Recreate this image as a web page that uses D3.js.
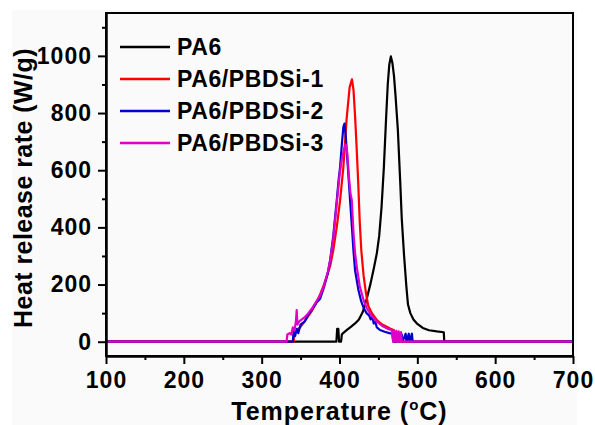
<!DOCTYPE html>
<html><head><meta charset="utf-8">
<script src="https://cdn.jsdelivr.net/npm/d3@7"></script>
<style>
html,body{margin:0;padding:0;background:#fff;}
svg text{font-family:"Liberation Sans",Arial,sans-serif;font-weight:bold;fill:#000;}
</style></head>
<body>
<svg id="c" width="595" height="425"></svg>
<script>
// ---- data (temperature °C, heat release rate W/g) ----
const seriesNames = ["PA6", "PA6/PBDSi-1", "PA6/PBDSi-2", "PA6/PBDSi-3"];
const seriesColors = ["#000000", "#ff0000", "#0000cc", "#e000c8"];

const pa6 = [[100,0],[396,0],[397,45],[398.5,45],[399.5,0],[402,0],[403,25],[405,31],[410,42],[415,53],[420,64],[425,78],[430,105],[435,150],[440,205],[444,255],[448,310],[451,370],[454,470],[457,610],[460,790],[462,900],[464,970],[466,998],[468,975],[470,930],[472,860],[475,740],[478,560],[480,430],[483,300],[486,190],[488,130],[491,100],[495,78],[500,62],[507,48],[515,40],[525,36],[534,33],[534.6,0],[700,0]];

const pbdsi1 = [[100,0],[341,0],[342,25],[345,40],[350,52],[355,70],[360,90],[365,110],[370,135],[375,165],[380,200],[385,240],[388,265],[392,320],[396.5,402],[400.8,495],[405,612],[409,775],[413,890],[416,918],[418,880],[420,790],[422,680],[424,560],[426,420],[428,320],[431,230],[434,170],[437,125],[442,98],[448,76],[455,60],[465,46],[470,40],[471,0],[700,0]];

const pbdsi2 = [[100,0],[340,0],[341,35],[343,20],[345,45],[347,30],[350,60],[355,70],[360,95],[365,115],[370,135],[375,150],[380,190],[385,240],[388,285],[392,370],[396.5,495],[399,570],[400.8,612],[403,690],[405,752],[406.4,763],[408,720],[410,640],[412,560],[413.6,495],[416,400],[417.9,320],[420,250],[424.3,181],[428,140],[431,118],[435,99],[438,92],[440,78],[442,88],[444,64],[446,70],[448,50],[452,41],[458,35],[464,30],[468,28],[469,0],[471,0],[472,25],[473,0],[476,28],[477,0],[480,25],[481,0],[485,28],[486,0],[489,28],[490,0],[493,28],[494,0],[700,0]];

const pbdsi3 = [[100,0],[332,0],[333,25],[336,30],[338,25],[340,50],[342,40],[344,70],[345,111],[346,60],[348,70],[350,75],[355,85],[360,100],[365,118],[370,140],[375,160],[380,195],[385,245],[388,285],[392,360],[396,470],[400,580],[403,640],[406,675],[408,690],[410,660],[412,580],[414,520],[415.8,495],[418,380],[420,310],[422.2,262],[426,195],[430.8,146],[435,118],[440,95],[448,70],[455,55],[462,45],[467,41],[469,0],[470,40],[471,0],[473,38],[474,0],[476,36],[477,0],[479,34],[480,0],[700,0]];

const seriesData = [pa6, pbdsi1, pbdsi2, pbdsi3];

const xTicks = [100,200,300,400,500,600,700];
const xMinorTicks = [150,250,350,450,550,650];
const yTicks = [0,200,400,600,800,1000];
const yMinorTicks = [100,300,500,700,900,1100];
const xTitle = "Temperature (";
const yTitle = "Heat release rate (W/g)";

// ---- layout ----
const svg = d3.select("#c");
svg.append("rect").attr("x",12).attr("y",10).attr("width",565).attr("height",415).attr("fill","#fafafa");

const L = 106, R = 573, T = 13, B = 356;
const x = d3.scaleLinear().domain([100,700]).range([L,R]);
const y = d3.scaleLinear().domain([-50,1150]).range([B,T]);

// data lines
const line = d3.line().x(d=>x(d[0])).y(d=>y(d[1]));
const g = svg.append("g");
seriesData.forEach((s,i)=>{
  g.append("path").datum(s).attr("d",line).attr("fill","none")
   .attr("stroke",seriesColors[i]).attr("stroke-width",2.2).attr("stroke-linejoin","round");
});

// frame
svg.append("rect").attr("x",L).attr("y",T).attr("width",R-L).attr("height",B-T)
  .attr("fill","none").attr("stroke","#000").attr("stroke-width",2);

// axes
const xa = svg.append("g").attr("transform",`translate(0,${B})`)
  .call(d3.axisBottom(x).tickValues(xTicks).tickFormat(d3.format("d")).tickSize(8).tickSizeOuter(0).tickPadding(8));
const xm = svg.append("g").attr("transform",`translate(0,${B})`)
  .call(d3.axisBottom(x).tickValues(xMinorTicks).tickFormat("").tickSize(4).tickSizeOuter(0));
const ya = svg.append("g").attr("transform",`translate(${L},0)`)
  .call(d3.axisLeft(y).tickValues(yTicks).tickFormat(d3.format("d")).tickSize(8).tickSizeOuter(0).tickPadding(6));
const ym = svg.append("g").attr("transform",`translate(${L},0)`)
  .call(d3.axisLeft(y).tickValues(yMinorTicks).tickFormat("").tickSize(4).tickSizeOuter(0));
[xa,xm,ya,ym].forEach(a=>{
  a.select(".domain").attr("stroke","#000").attr("stroke-width",2);
  a.selectAll(".tick line").attr("stroke","#000").attr("stroke-width",2);
  a.selectAll(".tick text").style("font-size","23px").style("letter-spacing","1px")
   .style("font-family","'Liberation Sans',Arial,sans-serif").style("font-weight","bold").attr("fill","#000");
});

// axis titles
const xt = svg.append("text").attr("x",(L+R)/2).attr("y",420).attr("text-anchor","middle")
  .style("font-size","25px").style("letter-spacing","1px");
xt.append("tspan").text(xTitle);
xt.append("tspan").text("o").style("font-size","15px").attr("dy",-10);
xt.append("tspan").text("C)").attr("dy",10);

svg.append("text").attr("transform","translate(32,188) rotate(-90)")
  .attr("text-anchor","middle").style("font-size","25px").style("letter-spacing","0.45px").text(yTitle);

// legend
const lg = svg.append("g");
seriesNames.forEach((n,i)=>{
  const yy = 47 + i*32;
  lg.append("line").attr("x1",120).attr("x2",170).attr("y1",yy).attr("y2",yy)
    .attr("stroke",seriesColors[i]).attr("stroke-width",2.5);
  lg.append("text").attr("x",177).attr("y",yy).attr("dy","0.36em")
    .style("font-size","23px").style("letter-spacing","0.6px").text(n);
});
</script>
</body></html>
